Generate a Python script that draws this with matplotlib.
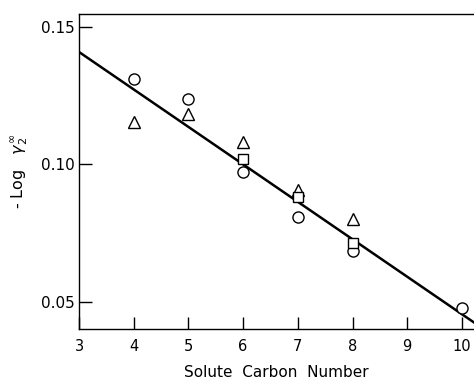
import matplotlib
matplotlib.use("Agg")
import matplotlib.pyplot as plt

# Data
circle_x = [4, 5, 6, 7, 8, 10]
circle_y = [0.1311, 0.1238, 0.0973, 0.0809, 0.0687, 0.0477]
triangle_x = [4, 5, 6, 7, 8]
triangle_y = [0.1155, 0.1184, 0.1082, 0.0907, 0.0802]
square_x = [6, 7, 8]
square_y = [0.1019, 0.0881, 0.0713]
line_x = [3, 10.3]
line_y = [0.1409, 0.0415]

x_ticks = [3, 4, 5, 6, 7, 8, 9, 10]
y_ticks = [0.05, 0.10, 0.15]
y_ticklabels = ["0.05", "0.10", "0.15"]

plt.rcParams['font.family'] = ['DejaVu Sans']

fig = plt.figure(figsize=(4.74, 3.84), dpi=100)
ax = fig.add_axes([79/474, 1 - 329/384, 1 - 79/474, (329 - 14)/384])

ax.plot(line_x, line_y, color='black', lw=1.8, zorder=1, clip_on=True)
mk = dict(linestyle='none', markerfacecolor='white', markeredgecolor='black',
          markeredgewidth=1.0, zorder=3, clip_on=False)
ax.plot(circle_x, circle_y, marker='o', markersize=8, **mk)
ax.plot(triangle_x, triangle_y, marker='^', markersize=8.5, **mk)
ax.plot(square_x, square_y, marker='s', markersize=7.5, **mk)

ax.set_xlim(3, 3 + (474 - 79) / 54.7)
ax.set_ylim(0.0402, 0.1547)
ax.set_xticks(x_ticks)
ax.set_yticks(y_ticks)
ax.set_yticklabels(y_ticklabels)
ax.tick_params(direction='in', length=9, width=1, labelsize=11, color='black')
ax.tick_params(axis='x', pad=7, labelsize=10.5)
ax.tick_params(axis='y', pad=3)
ax.spines['right'].set_visible(False)
for s in ['left', 'bottom', 'top']:
    ax.spines[s].set_linewidth(1.0)

ax.set_xlabel('Solute  Carbon  Number', fontsize=11, labelpad=8)
ax.set_ylabel(r'- Log   $\gamma_2^{\infty}$', fontsize=11.5, labelpad=8)

fig.savefig('out.png', dpi=100)
